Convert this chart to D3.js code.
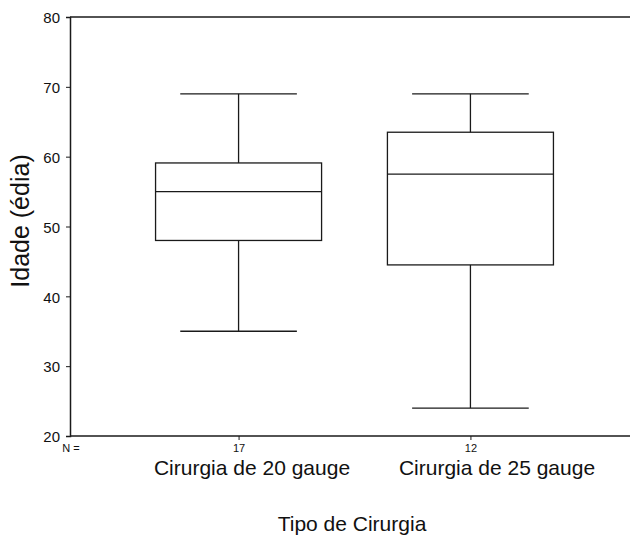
<!DOCTYPE html>
<html>
<head>
<meta charset="utf-8">
<script src="https://cdn.jsdelivr.net/npm/d3@7"></script>
<style>
  html, body { margin: 0; padding: 0; background: #fff; }
  svg text { font-family: "Liberation Sans", Arial, sans-serif; fill: #111; }
</style>
</head>
<body>
<svg id="chart" width="630" height="535"></svg>
<script>
// Age by surgery type: five-number summaries per group
const categories = ["Cirurgia de 20 gauge", "Cirurgia de 25 gauge"];
const counts = [17, 12];
const whiskerLow = [35, 24];
const q1 = [48, 44.5];
const medians = [55, 57.5];
const q3 = [59.1, 63.5];
const whiskerHigh = [69, 69];
const yTicks = [20, 30, 40, 50, 60, 70, 80];

const svg = d3.select("#chart");
const plotLeft = 70, plotRight = 630, plotTop = 17, plotBottom = 436;
const ink = "#1a1a1a";

const y = d3.scaleLinear().domain([20, 80]).range([plotBottom, plotTop]);
const x = d3.scalePoint().domain(categories).range([plotLeft, 639]).padding(0.727);
// Category names sit a little right of their tick marks
const xLabel = d3.scalePoint().domain(categories).range([252, 497]);
const step = x.step();
const boxW = step * 0.716;
const capW = step * 0.503;

// Frame: top rule and bottom axis line
svg.append("line").attr("x1", plotLeft).attr("x2", plotRight).attr("y1", plotTop).attr("y2", plotTop)
  .attr("stroke", ink).attr("stroke-width", 1.5);
svg.append("line").attr("x1", plotLeft).attr("x2", plotRight).attr("y1", plotBottom).attr("y2", plotBottom)
  .attr("stroke", ink).attr("stroke-width", 1.5);

const yAxis = svg.append("g").attr("transform", `translate(${plotLeft},0)`)
  .call(d3.axisLeft(y).tickValues(yTicks).tickSize(4).tickPadding(6));
yAxis.select(".domain").attr("stroke", ink).attr("stroke-width", 1.5);
yAxis.selectAll(".tick line").attr("stroke", ink);
yAxis.selectAll(".tick text").attr("font-size", 15).attr("dy", "0.38em")
  .attr("font-family", "Liberation Sans, Arial, sans-serif").attr("fill", "#111");

// Category ticks with group sizes
const xAxis = svg.append("g").attr("transform", `translate(0,${plotBottom})`)
  .call(d3.axisBottom(x).tickSize(4).tickPadding(4).tickFormat((d, i) => counts[i]));
xAxis.select(".domain").remove();
xAxis.selectAll(".tick line").attr("stroke", ink);
xAxis.selectAll(".tick text").attr("font-size", 11)
  .attr("font-family", "Liberation Sans, Arial, sans-serif").attr("fill", "#111");

svg.append("text").attr("x", 71).attr("y", 452).attr("text-anchor", "middle")
  .attr("font-size", 11).text("N =");

// Category names
svg.selectAll("text.cat").data(categories).join("text")
  .attr("class", "cat")
  .attr("x", d => xLabel(d)).attr("y", 475)
  .attr("text-anchor", "middle").attr("font-size", 21)
  .text(d => d);

// Axis titles
svg.append("text").attr("x", 352).attr("y", 531).attr("text-anchor", "middle")
  .attr("font-size", 21).text("Tipo de Cirurgia");
svg.append("text").attr("transform", "translate(29,221) rotate(-90)")
  .attr("text-anchor", "middle").attr("font-size", 25).text("Idade (édia)");

// Boxes and whiskers
const groups = svg.selectAll("g.box").data(categories).join("g").attr("class", "box");
groups.each(function(d, i) {
  const g = d3.select(this);
  const cx = x(d);
  const line = (x1, x2, y1, y2) => g.append("line")
    .attr("x1", x1).attr("x2", x2).attr("y1", y1).attr("y2", y2)
    .attr("stroke", ink).attr("stroke-width", 1.3);
  line(cx, cx, y(whiskerHigh[i]), y(q3[i]));
  line(cx, cx, y(q1[i]), y(whiskerLow[i]));
  line(cx - capW / 2, cx + capW / 2, y(whiskerHigh[i]), y(whiskerHigh[i]));
  line(cx - capW / 2, cx + capW / 2, y(whiskerLow[i]), y(whiskerLow[i]));
  g.append("rect")
    .attr("x", cx - boxW / 2).attr("width", boxW)
    .attr("y", y(q3[i])).attr("height", y(q1[i]) - y(q3[i]))
    .attr("fill", "none").attr("stroke", ink).attr("stroke-width", 1.3);
  line(cx - boxW / 2, cx + boxW / 2, y(medians[i]), y(medians[i]));
});
</script>
</body>
</html>
